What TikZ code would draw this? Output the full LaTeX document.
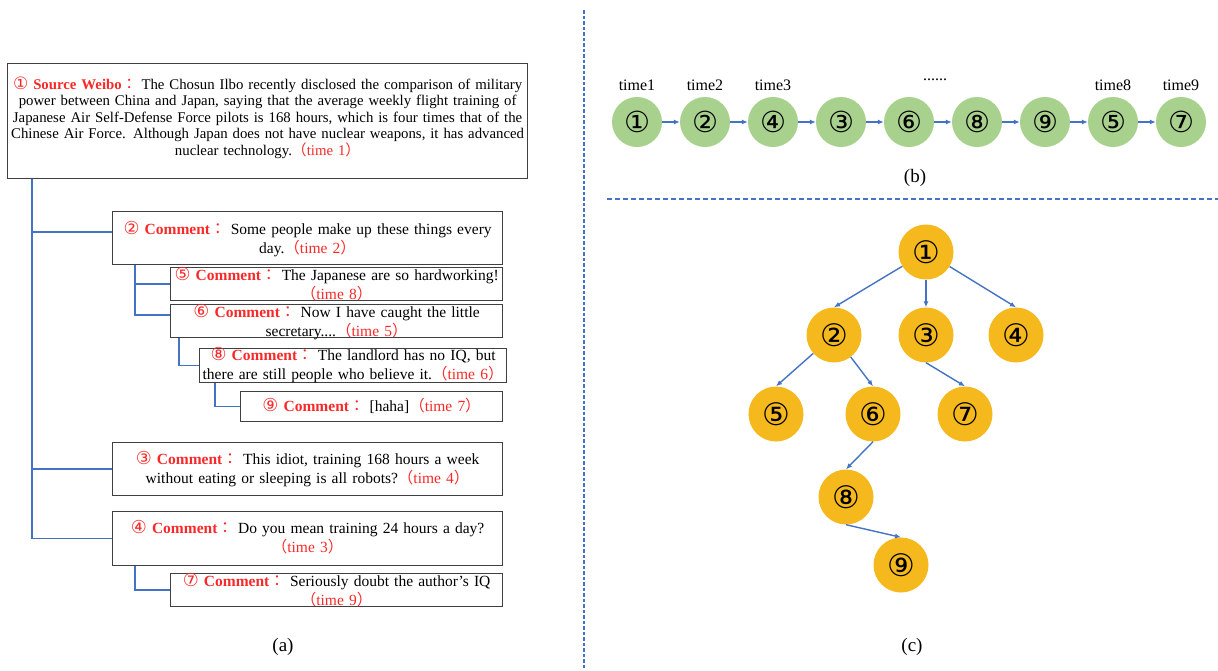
\documentclass[tikz,border=0pt]{standalone}
\usepackage{fontspec}
\setmainfont{Liberation Serif}
\newfontfamily\circfont{DejaVu Sans}
\newfontfamily\circsmall[Scale=1.15]{DejaVu Sans}
\newfontfamily\cjkfont{Noto Sans CJK TC}
\usepackage{xcolor}
\usetikzlibrary{arrows.meta,positioning}

\definecolor{lineblue}{RGB}{68,114,196}
\definecolor{boxgray}{RGB}{64,64,64}
\definecolor{cred}{RGB}{250,40,40}
\definecolor{seqgreen}{RGB}{169,209,142}
\definecolor{treegold}{RGB}{245,185,30}

% red heads of the weibo and comment boxes
\newcommand{\srchead}{\textcolor{cred}{{\circsmall ①} \textbf{Source Weibo}{\cjkfont ：}}}
\newcommand{\cmt}[1]{\textcolor{cred}{{\circsmall #1} \textbf{Comment}{\cjkfont ：}}}
\newcommand{\tme}[1]{\textcolor{cred}{{\cjkfont （}time #1{\cjkfont ）}}}

\begin{document}
\begin{tikzpicture}[x=1pt,y=-1pt]
    \tikzstyle{box} = [draw=boxgray, line width=1.2pt, inner sep=0pt,
               anchor=north west, align=center,
               font=\fontsize{15.5}{19}\selectfont]
    \tikzstyle{tree} = [draw=lineblue, line width=1.5pt]
    \tikzstyle{line} = [draw=lineblue, line width=1.4pt, -{Latex[length=6pt,width=5pt]}]
    \tikzstyle{seq} = [circle, fill=seqgreen, minimum size=50pt, inner sep=0pt,
               font=\circfont\fontsize{29}{29}\selectfont]
    \tikzstyle{post} = [circle, fill=treegold, minimum size=55pt, inner sep=0pt,
               font=\circfont\fontsize{31}{31}\selectfont]
    \tikzstyle{sub} = [font=\fontsize{19}{19}\selectfont]

    \useasboundingbox (0,0) rectangle (1218,670);

    % dividers between the panels
    \draw[lineblue, line width=1.8pt, dash pattern=on 3.5pt off 2pt] (584,10) -- (584,670);
    \draw[lineblue, line width=1.8pt, dash pattern=on 5pt off 3pt] (607,199) -- (1218,199);

    % (a) source weibo and its comments
    \node[box, text width=520pt, text height=25.5pt, text depth=89.5pt,
          font=\fontsize{14.8}{16.5}\selectfont] (src) at (7,63)
      {\srchead\ The Chosun Ilbo recently disclosed the comparison of military\\
       power between China and Japan, saying that the average weekly flight training of\\
       Japanese Air Self-Defense Force pilots is 168 hours, which is four times that of the\\
       Chinese Air Force. Although Japan does not have nuclear weapons, it has advanced\\
       nuclear technology.\tme{1}};

    \node[box, text width=390pt, text height=22.5pt, text depth=30.5pt] (c2) at (112,211)
      {\cmt{②} Some people make up these things every\\ day.\tme{2}};
    \node[box, text width=332pt, text height=13pt, text depth=20pt] (c5) at (170,267)
      {\cmt{⑤} The Japanese are so hardworking!\\ \tme{8}};
    \node[box, text width=332pt, text height=12.5pt, text depth=20.5pt] (c6) at (170,304)
      {\cmt{⑥} Now I have caught the little\\ secretary....\tme{5}};
    \node[box, text width=307pt, text height=12pt, text depth=22pt] (c8) at (199,348)
      {\cmt{⑧} The landlord has no IQ, but\\ there are still people who believe it.\tme{6}};
    \node[box, text width=262pt, text height=19.5pt, text depth=10.5pt] (c9) at (240,391)
      {\cmt{⑨} [haha]\tme{7}};
    \node[box, text width=390pt, text height=22pt, text depth=31pt] (c3) at (112,442)
      {\cmt{③} This idiot, training 168 hours a week\\ without eating or sleeping is all robots?\tme{4}};
    \node[box, text width=390pt, text height=21.5pt, text depth=32.5pt] (c4) at (112,511)
      {\cmt{④} Do you mean training 24 hours a day?\\ \tme{3}};
    \node[box, text width=332pt, text height=12.5pt, text depth=20.5pt] (c7) at (170,573)
      {\cmt{⑦} Seriously doubt the author's IQ\\ \tme{9}};

    % reply links
    \coordinate (trunk) at (32,0);
    \draw[tree] (src.south -| trunk) |- ([yshift=6pt]c2.west);
    \draw[tree] (src.south -| trunk) |- (c3.west);
    \draw[tree] (src.south -| trunk) |- (c4.west);
    \draw[tree] ([xshift=23pt]c2.south west) |- (c5.west);
    \draw[tree] ([xshift=23pt]c2.south west) |- ([yshift=6pt]c6.west);
    \draw[tree] ([xshift=9pt]c6.south west) |- (c8.west);
    \draw[tree] ([xshift=16pt]c8.south west) |- (c9.west);
    \draw[tree] ([xshift=23pt]c4.south west) |- (c7.west);

    \node[sub] (suba) at (283,647) {(a)};

    % (b) posts in time order
    \foreach \lab [count=\i] in {①,②,④,③,⑥,⑧,⑨,⑤,⑦}
      \node[seq] (s\i) at ({569+68*\i},122) {\lab};
    \foreach \i [count=\j from 2] in {1,...,8}
      \draw[line] (s\i) -- (s\j);
    \foreach \i/\t in {1/time1,2/time2,3/time3,8/time8,9/time9}
      \node[above=5pt of s\i, inner sep=1pt, font=\fontsize{16}{16}\selectfont] (lab\i) {\t};
    \node[font=\fontsize{16}{16}\selectfont] (dots) at (935,80) {......};

    \node[sub] (subb) at (915,178) {(b)};

    % (c) propagation tree
    \node[post] (r1) at (926,252) {①};
    \node[post] (r2) at (834,335) {②};
    \node[post] (r3) at (926,335) {③};
    \node[post] (r4) at (1016,335) {④};
    \node[post] (r5) at (776,414) {⑤};
    \node[post] (r6) at (873,414) {⑥};
    \node[post] (r7) at (965,414) {⑦};
    \node[post] (r8) at (846,497) {⑧};
    \node[post] (r9) at (901,565) {⑨};

    \draw[line] (r1) -- (r2.north);
    \draw[line] (r1) -- (r3);
    \draw[line] (r1) -- (r4.north);
    \draw[line] (r2) -- (r5.north);
    \draw[line] (r2) -- (r6.north);
    \draw[line] (r3.south) -- (r7.north);
    \draw[line] (r6.south) -- (r8.north);
    \draw[line] (r8.south) -- (r9.north);

    \node[sub] (subc) at (912,647) {(c)};
\end{tikzpicture}
\end{document}
